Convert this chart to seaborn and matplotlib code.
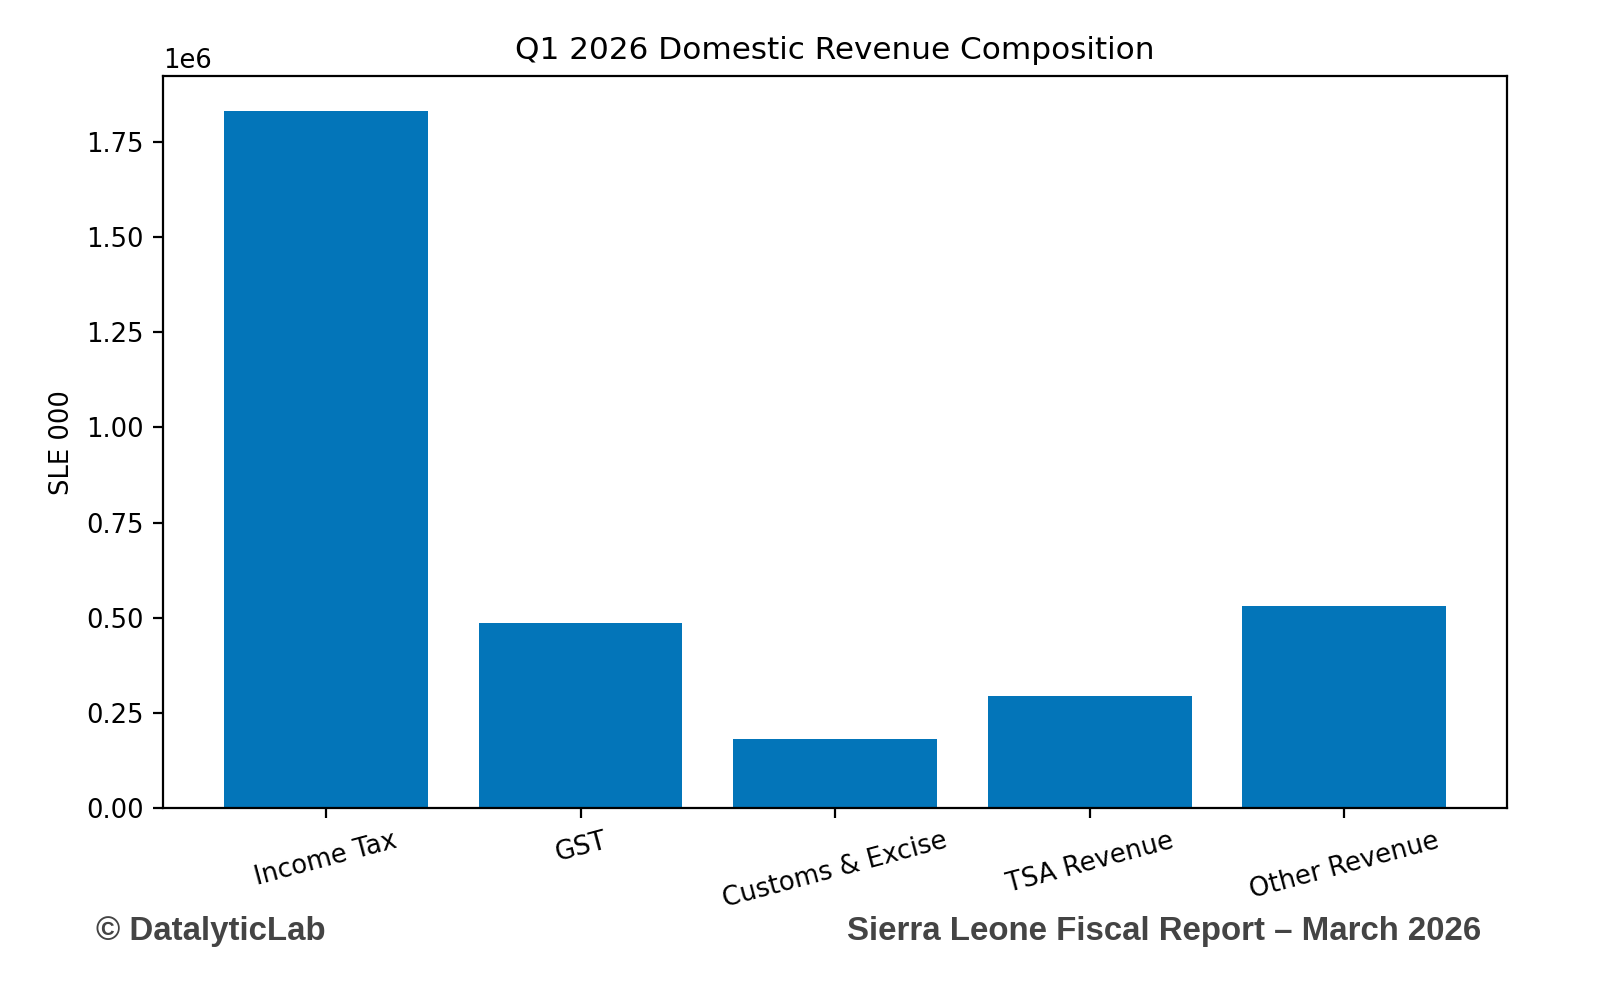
import matplotlib
matplotlib.use("Agg")
import matplotlib.pyplot as plt
import pandas as pd
import seaborn as sns

# Revenue lines and values (SLE 000)
categories = ["Income Tax", "GST", "Customs & Excise", "TSA Revenue", "Other Revenue"]
revenue = [1831000, 486000, 182000, 294000, 531000]

df = pd.DataFrame({"source": categories, "value": revenue})

plt.rcParams["font.family"] = ["DejaVu Sans"]
plt.rcParams["font.size"] = 9.3

fig = plt.figure(figsize=(8, 4.905), dpi=200)
ax = fig.add_axes([0.102, 0.176, 0.840, 0.7465])

sns.barplot(data=df, x="source", y="value", color="#0375B9", saturation=1,
            width=0.8, ax=ax)

ax.set_xlim(-0.64, 4.64)
ax.set_ylim(0, max(revenue) * 1.05)
ax.set_title("Q1 2026 Domestic Revenue Composition", fontsize=11.2)
ax.set_xlabel("")
ax.set_ylabel("SLE 000")
ax.tick_params(axis="x", rotation=15)

# Footer
fig.text(0.060, 0.050, "\u00a9 DatalyticLab", fontsize=11.9, fontweight="bold",
         family="Liberation Sans", color="#444444", va="center", ha="left")
fig.text(0.926, 0.050, "Sierra Leone Fiscal Report \u2013 March 2026", fontsize=11.9,
         fontweight="bold", family="Liberation Sans", color="#444444",
         va="center", ha="right")

fig.savefig("out.png", dpi=200)
